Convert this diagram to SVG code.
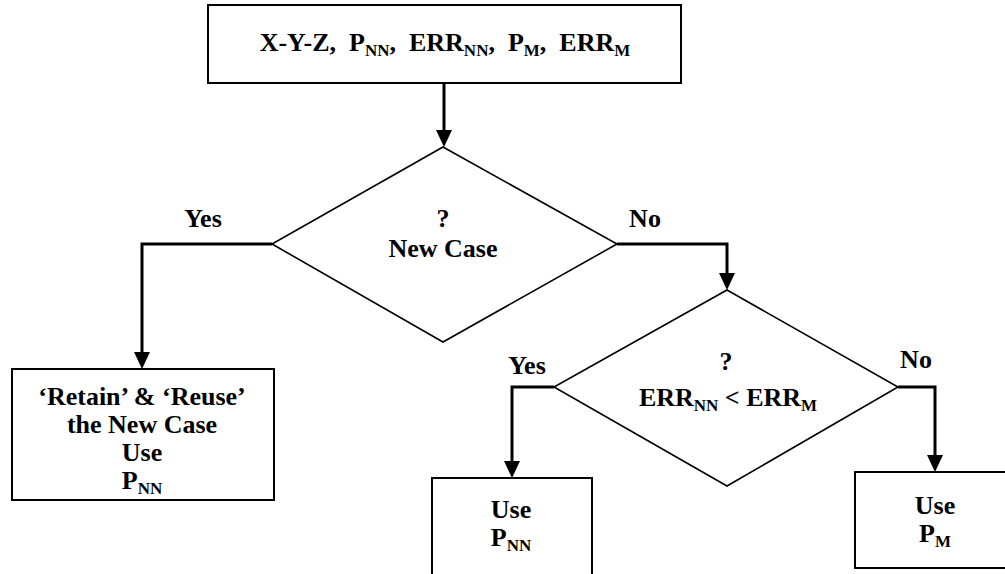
<svg xmlns="http://www.w3.org/2000/svg" width="1005" height="574" viewBox="0 0 1005 574">
<defs>
<style>
.box{fill:#fff;stroke:#000;stroke-width:2}
.dia{fill:#fff;stroke:#000;stroke-width:1.6}
.ln{fill:none;stroke:#000;stroke-width:3}
.head{fill:#000}
.t{font-family:'Liberation Serif','Times New Roman',Times,serif;font-weight:700;font-size:26px;fill:#000;text-anchor:middle}
.sub{font-size:17px}
</style>
</defs>
<rect width="1005" height="574" fill="#fff"/>
<g id="connectors">
<path class="ln" d="M444,83 V131"/>
<path class="head" d="M436,130 L452,130 L444,147 Z"/>
<path class="ln" d="M272,244 H142 V353"/>
<path class="head" d="M134,352 L150,352 L142,369 Z"/>
<path class="ln" d="M617,244 H727 V274"/>
<path class="head" d="M719,273 L735,273 L727,290 Z"/>
<path class="ln" d="M554,387 H512 V462"/>
<path class="head" d="M504,461 L520,461 L512,478 Z"/>
<path class="ln" d="M898,387 H935 V456"/>
<path class="head" d="M927,455 L943,455 L935,472 Z"/>
</g>
<g font-family="Liberation Serif, serif">
<g id="inputs">
<rect class="box" x="208" y="5" width="473" height="78"/>
<text class="t" x="445" y="51" xml:space="preserve">X-Y-Z,  P<tspan class="sub" dy="5">NN</tspan><tspan dy="-5">,  ERR</tspan><tspan class="sub" dy="5">NN</tspan><tspan dy="-5">,  P</tspan><tspan class="sub" dy="5">M</tspan><tspan dy="-5">,  ERR</tspan><tspan class="sub" dy="5">M</tspan></text>
</g>
<g id="new-case">
<polygon class="dia" points="443,147 617,244 443,342 272,244"/>
<text class="t" x="443" y="227">?</text>
<text class="t" x="443" y="257">New Case</text>
</g>
<g id="label-yes-1"><text class="t" x="203" y="227">Yes</text></g>
<g id="label-no-1"><text class="t" x="645" y="227">No</text></g>
<g id="retain">
<rect class="box" x="12" y="369" width="262" height="131"/>
<text class="t" x="142" y="405">‘Retain’ &amp; ‘Reuse’</text>
<text class="t" x="142" y="433">the New Case</text>
<text class="t" x="142" y="461">Use</text>
<text class="t" x="142" y="489">P<tspan class="sub" dy="5">NN</tspan></text>
</g>
<g id="compare">
<polygon class="dia" points="727,290 898,387 727,486 554,387"/>
<text class="t" x="726" y="370">?</text>
<text class="t" x="728" y="406">ERR<tspan class="sub" dy="5">NN</tspan><tspan dy="-5"> &lt; ERR</tspan><tspan class="sub" dy="5">M</tspan></text>
</g>
<g id="label-yes-2"><text class="t" x="527" y="374">Yes</text></g>
<g id="label-no-2"><text class="t" x="916" y="368">No</text></g>
<g id="use-pnn">
<rect class="box" x="432" y="478" width="160" height="104"/>
<text class="t" x="511" y="518">Use</text>
<text class="t" x="511" y="546">P<tspan class="sub" dy="5">NN</tspan></text>
</g>
<g id="use-pm">
<rect class="box" x="855" y="472" width="160" height="96"/>
<text class="t" x="935" y="514">Use</text>
<text class="t" x="935" y="542">P<tspan class="sub" dy="5">M</tspan></text>
</g>
</g>
</svg>
